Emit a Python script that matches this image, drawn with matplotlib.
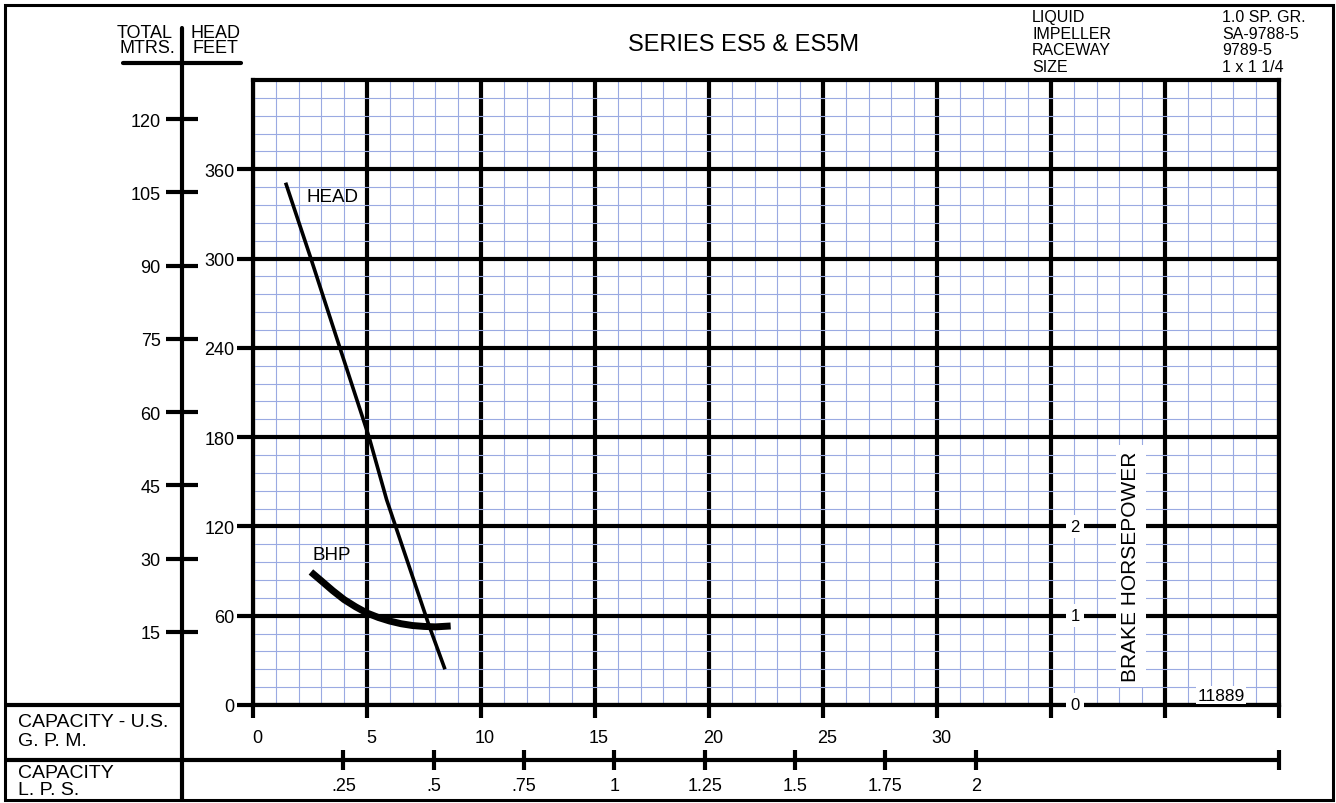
import numpy as np
import matplotlib
matplotlib.use("Agg")
import matplotlib.pyplot as plt
from matplotlib.lines import Line2D
from matplotlib.patches import Rectangle
from matplotlib.transforms import ScaledTranslation

plt.rcParams['font.family'] = ['Liberation Sans', 'DejaVu Sans']

# pump curve readings (GPM, feet of head / brake horsepower)
head_gpm = [1.43, 2.54, 3.79, 5.09, 5.86, 7.73, 8.42]
head_ft = [351, 300, 241, 180, 138, 53, 24]
bhp_gpm = [2.54, 3.0, 3.5, 4.0, 4.5, 5.0, 5.5, 6.0, 6.5, 7.0, 7.5, 8.0, 8.67]
bhp_hp = [1.49, 1.39, 1.28, 1.18, 1.10, 1.03, 0.98, 0.94, 0.91, 0.89, 0.88, 0.875, 0.885]

gpm_ticks = [0, 5, 10, 15, 20, 25, 30, 35, 40, 45]
gpm_labels = ['0', '5', '10', '15', '20', '25', '30', '', '', '']
feet_ticks = [0, 60, 120, 180, 240, 300, 360]
mtrs_ticks = [15, 30, 45, 60, 75, 90, 105, 120]
lps_ticks = [.25, .5, .75, 1, 1.25, 1.5, 1.75, 2]
lps_labels = ['.25', '.5', '.75', '1', '1.25', '1.5', '1.75', '2']
bhp_ticks = [0, 1, 2]

info_keys = ['LIQUID', 'IMPELLER', 'RACEWAY', 'SIZE']
info_vals = ['1.0 SP. GR.', 'SA-9788-5', '9789-5', '1 x 1 1/4']

W, H = 1336, 804
fig = plt.figure(figsize=(W / 100, H / 100), dpi=100)


def fx(x):
    return x / W


def fy(y):
    return 1 - y / H


GPM_MAX, FT_MAX = 45, 420
x0, x1, y0, y1 = 253, 1279, 706, 81
ax = fig.add_axes([fx(x0), fy(y0), fx(x1 - x0), (y0 - y1) / H])
ax.set_xlim(0, GPM_MAX)
ax.set_ylim(0, FT_MAX)
ax.set_xticks(gpm_ticks)
ax.set_xticklabels(gpm_labels, fontsize=13)
ax.set_xticks(np.arange(0, GPM_MAX + 1, 1), minor=True)
ax.set_yticks(feet_ticks)
ax.set_yticklabels([str(v) for v in feet_ticks], fontsize=13)
ax.set_yticks(np.arange(0, FT_MAX + 1, 12), minor=True)
ax.grid(which='minor', color='#9aaae2', lw=0.8)
ax.grid(which='major', color='black', lw=3)
ax.tick_params(which='minor', length=0)
ax.tick_params(axis='x', which='major', direction='out', length=9.5, width=3, pad=8)
ax.tick_params(axis='y', which='major', direction='out', length=11.5, width=3, pad=2)
for s in ax.spines.values():
    s.set_linewidth(3)
for lab in ax.get_xticklabels():
    lab.set_transform(lab.get_transform() + ScaledTranslation(0.04, 0, fig.dpi_scale_trans))

ax.plot(head_gpm, head_ft, color='black', lw=2.6, solid_capstyle='butt')
ax.text(2.35, 342, 'HEAD', fontsize=13.5, va='center')
ax.text(2.6, 101, 'BHP', fontsize=13.5, va='center')
ax.text(42.45, 6.5, '11889', fontsize=12.5, ha='center', va='center',
        bbox=dict(facecolor='white', edgecolor='none', pad=1))

# brake horsepower on its own scale (1 HP = 60 ft)
ax2 = ax.twinx()
ax2.set_ylim(0, FT_MAX / 60)
ax2.set_yticks([])
for s in ax2.spines.values():
    s.set_visible(False)
ax2.plot(bhp_gpm, bhp_hp, color='black', lw=5, solid_capstyle='butt')
for v in bhp_ticks:
    ax2.text(36.05, v, str(v), fontsize=12, ha='center', va='center',
             bbox=dict(facecolor='white', edgecolor='none', pad=3), clip_on=False)
ax2.text(38.5, 1.56, 'BRAKE HORSEPOWER', rotation=90, ha='center', va='center',
         fontsize=15, bbox=dict(facecolor='white', edgecolor='none', pad=4))

# metres scale
axm = fig.add_axes([fx(181.7), fy(y0), 0.0001, (y0 - y1) / H])
axm.set_ylim(0, FT_MAX * 0.3048)
axm.set_xticks([])
axm.set_yticks(mtrs_ticks)
axm.set_yticklabels([str(v) for v in mtrs_ticks], fontsize=13)
axm.tick_params(axis='y', direction='inout', length=23, width=3, pad=3.6)
axm.patch.set_visible(False)
for s in axm.spines.values():
    s.set_visible(False)

# litres per second scale
axl = fig.add_axes([fx(x0), fy(761), fx(x1 - x0), 0.0001])
lps_max = GPM_MAX * 0.0630902
axl.set_xlim(0, lps_max)
axl.set_yticks([])
axl.set_xticks(lps_ticks + [lps_max])
axl.set_xticklabels(lps_labels + [''], fontsize=13)
axl.tick_params(axis='x', direction='inout', length=15, width=3, pad=5)
axl.patch.set_visible(False)
for s in axl.spines.values():
    s.set_visible(False)

# frame lines
def fline(xs, ys, lw=3, cap='projecting'):
    fig.add_artist(Line2D([fx(x) for x in xs], [fy(y) for y in ys], color='black',
                          lw=lw, solid_capstyle=cap, transform=fig.transFigure))


fig.add_artist(Rectangle((fx(5), fy(801)), fx(1328), 795 / H, fill=False, lw=2.2,
                         edgecolor='black', transform=fig.transFigure))
fline([182, 182], [29, 801], cap='round')
fline([123, 241], [64, 64], cap='round')
fline([5, 182], [706, 706], cap='butt')
fline([5, 1279], [761, 761], cap='butt')

# texts
def ftext(x, y, s, size, ha='left'):
    fig.text(fx(x), fy(y), s, fontsize=size, ha=ha, va='center')


ftext(173, 34, 'TOTAL', 13, 'right')
ftext(190, 34, 'HEAD', 13)
ftext(175, 48.5, 'MTRS.', 13, 'right')
ftext(192, 48.5, 'FEET', 13)
ftext(744, 45, 'SERIES ES5 & ES5M', 17, 'center')
for i, (k, v) in enumerate(zip(info_keys, info_vals)):
    yy = 17.5 + i * 16.6
    ftext(1032, yy, k, 11.5)
    ftext(1222, yy, v, 11.5)
ftext(18, 722.5, 'CAPACITY - U.S.', 14)
ftext(18, 741.5, 'G. P. M.', 14)
ftext(18, 774, 'CAPACITY', 14)
ftext(18, 790.5, 'L. P. S.', 14)

fig.savefig('out.png', dpi=100)
